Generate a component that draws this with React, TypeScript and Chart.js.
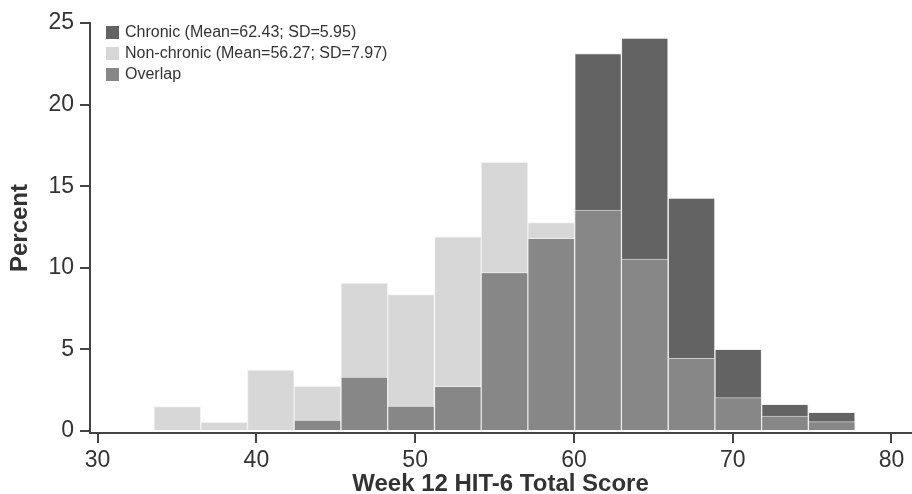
import React, { useEffect, useRef } from "react";
import { Chart, registerables } from "chart.js";

Chart.register(...registerables);

// Histogram bin centres (HIT-6 score)
const binCenters = [35.02, 37.97, 40.91, 43.85, 46.8, 49.74, 52.69, 55.63, 58.57, 61.52, 64.46, 67.41, 70.35, 73.29, 76.24];
// Percent per bin
const chronicPct = [0, 0, 0, 0.67, 3.31, 1.53, 2.74, 9.71, 11.81, 23.13, 24.08, 14.27, 5.01, 1.63, 1.15];
const nonChronicPct = [1.49, 0.53, 3.74, 2.74, 9.07, 8.36, 11.9, 16.47, 12.77, 13.53, 10.53, 4.46, 2.04, 0.92, 0.57];

const xTicks = [30, 40, 50, 60, 70, 80];
const yTicks = [0, 5, 10, 15, 20, 25];

const legendLabels = [
  "Chronic (Mean=62.43; SD=5.95)",
  "Non-chronic (Mean=56.27; SD=7.97)",
  "Overlap",
];
const colors = ["#636363", "#d7d7d7", "#878787"];

const FONT = "'Liberation Sans', Arial, Helvetica, sans-serif";

export default function App() {
  const ref = useRef<HTMLCanvasElement | null>(null);

  useEffect(() => {
    if (!ref.current) return;
    const overlap = chronicPct.map((v, i) => Math.min(v, nonChronicPct[i]));
    const toPts = (arr: number[]) => arr.map((y, i) => ({ x: binCenters[i], y }));

    const legendPlugin = {
      id: "boxLegend",
      afterDraw(chart: any) {
        const ctx = chart.ctx;
        ctx.save();
        ctx.font = `16px ${FONT}`;
        ctx.textBaseline = "middle";
        ctx.textAlign = "left";
        legendLabels.forEach((t, i) => {
          const cy = 32.5 + i * 21;
          ctx.fillStyle = colors[i];
          ctx.fillRect(106, cy - 6.5, 13, 13);
          ctx.fillStyle = "#333333";
          ctx.fillText(t, 125, cy + 0.5);
        });
        ctx.restore();
      },
    };

    const border = "rgba(238,238,238,0.75)";
    const chart = new Chart(ref.current, {
      type: "bar",
      data: {
        datasets: [
          { label: legendLabels[0], data: toPts(chronicPct), backgroundColor: colors[0], borderColor: border, borderWidth: 1, order: 2 },
          { label: legendLabels[1], data: toPts(nonChronicPct), backgroundColor: colors[1], borderColor: border, borderWidth: 1, order: 2 },
          { label: legendLabels[2], data: toPts(overlap), backgroundColor: colors[2], borderColor: border, borderWidth: 1, order: 1 },
        ],
      },
      options: {
        animation: false,
        responsive: false,
        maintainAspectRatio: false,
        layout: { padding: { top: 23, right: 1, left: 0, bottom: 0 } },
        datasets: { bar: { grouped: false, barPercentage: 1, categoryPercentage: 1 } } as any,
        plugins: { legend: { display: false }, tooltip: { enabled: false } },
        scales: {
          x: {
            type: "linear",
            offset: false,
            min: 29.52,
            max: 81.23,
            afterBuildTicks: (axis: any) => {
              axis.ticks = xTicks.map((v) => ({ value: v }));
            },
            afterFit: (scale: any) => {
              scale.height = 61;
            },
            grid: { display: true, offset: false, drawOnChartArea: false, drawTicks: true, tickLength: 10, color: "#444444", lineWidth: 2 },
            border: { display: true, color: "#444444", width: 2 },
            ticks: { color: "#333333", font: { family: FONT, size: 23 }, padding: 4, autoSkip: false, maxRotation: 0 },
            title: { display: true, text: "Week 12 HIT-6 Total Score", color: "#333333", font: { family: FONT, size: 24, weight: "bold", lineHeight: 0.8 }, padding: { top: 0, bottom: 0 } },
          },
          y: {
            type: "linear",
            min: -0.123,
            max: 25,
            afterBuildTicks: (axis: any) => {
              axis.ticks = yTicks.map((v) => ({ value: v }));
            },
            afterFit: (scale: any) => {
              scale.width = 90;
            },
            grid: { display: true, drawOnChartArea: false, drawTicks: true, tickLength: 10, color: "#444444", lineWidth: 2 },
            border: { display: true, color: "#444444", width: 2 },
            ticks: { color: "#333333", font: { family: FONT, size: 23 }, padding: 6 },
            title: { display: true, text: "Percent", color: "#333333", font: { family: FONT, size: 24, weight: "bold" }, padding: { top: 6, bottom: 0 } },
          },
        },
      },
      plugins: [legendPlugin],
    });
    return () => chart.destroy();
  }, []);

  return (
    <div style={{ position: "absolute", left: 0, top: 0, width: 912, height: 494, background: "#ffffff" }}>
      <canvas ref={ref} width={912} height={494} style={{ display: "block", width: 912, height: 494 }} />
    </div>
  );
}
